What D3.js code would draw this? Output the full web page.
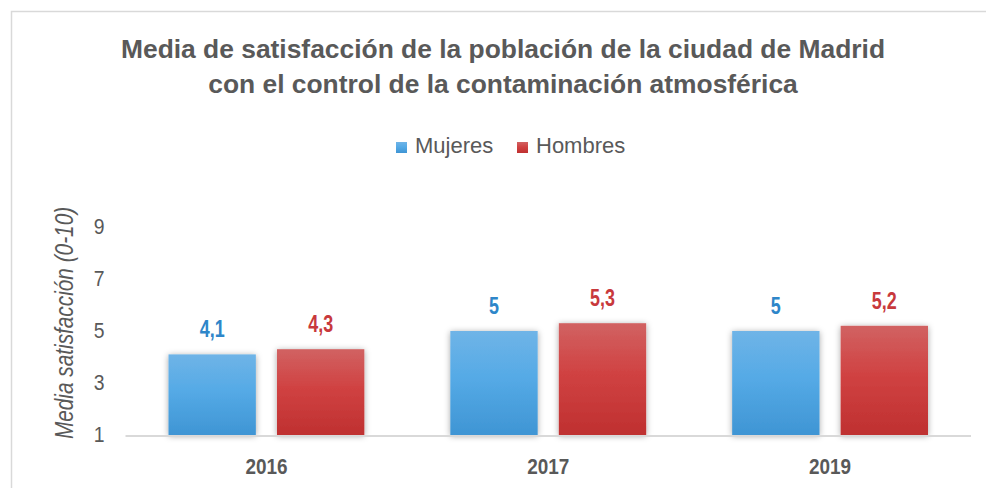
<!DOCTYPE html>
<html><head><meta charset="utf-8">
<script src="https://cdn.jsdelivr.net/npm/d3@7"></script>
<style>
html,body{margin:0;padding:0;background:#fff;}
svg{display:block;}
</style>
</head><body>
<svg id="chart" width="986" height="488"></svg>
<script>
const categories = ["2016", "2017", "2019"];
const seriesNames = ["Mujeres", "Hombres"];
const mujeres = [4.1, 5.0, 5.0];
const hombres = [4.3, 5.3, 5.2];
const yTicks = [1, 3, 5, 7, 9];
const valueLabels = {Mujeres: ["4,1", "5", "5"], Hombres: ["4,3", "5,3", "5,2"]};
const titleLines = ["Media de satisfacción de la población de la ciudad de Madrid", "con el control de la contaminación atmosférica"];
const yTitle = "Media satisfacción (0-10)";

const svg = d3.select("#chart");
const W = 986, H = 488;
const FONT = "'Liberation Sans', Arial, sans-serif";
const gray = "#595959";
const colors = {Mujeres: {top: "#6fb4e7", mid: "#55aae6", bot: "#3f95d4", label: "#2e86c9"},
                Hombres: {top: "#d16262", mid: "#d04242", bot: "#bf3030", label: "#c8393c"}};

const defs = svg.append("defs");
seriesNames.forEach(s => {
  const g = defs.append("linearGradient").attr("id", "grad-" + s).attr("x1", 0).attr("y1", 0).attr("x2", 0).attr("y2", 1);
  g.append("stop").attr("offset", "0%").attr("stop-color", colors[s].top);
  g.append("stop").attr("offset", "45%").attr("stop-color", colors[s].mid);
  g.append("stop").attr("offset", "100%").attr("stop-color", colors[s].bot);
});
const f = defs.append("filter").attr("id", "shadow").attr("x", "-20%").attr("y", "-20%").attr("width", "140%").attr("height", "140%");
f.append("feDropShadow").attr("dx", 0).attr("dy", 1).attr("stdDeviation", 3).attr("flood-color", "#000").attr("flood-opacity", 0.35);

// outer frame
svg.append("path").attr("d", `M11.5,${H} V11.5 H${W}`).attr("fill", "none").attr("stroke", "#d9d9d9").attr("stroke-width", 1.5);

// title
svg.append("g").selectAll("text").data(titleLines).join("text")
  .attr("x", 503).attr("y", (d, i) => 58 + i * 35)
  .attr("text-anchor", "middle").attr("font-family", FONT).attr("font-weight", "bold")
  .attr("font-size", 26.4).attr("fill", gray).text(d => d);

// legend
const legendItems = [{name: "Mujeres", x: 396}, {name: "Hombres", x: 517}];
const lg = svg.append("g").selectAll("g").data(legendItems).join("g")
  .attr("transform", d => `translate(${d.x},142)`);
lg.append("rect").attr("width", 11).attr("height", 11).attr("fill", d => `url(#grad-${d.name})`);
lg.append("text").attr("x", 19).attr("y", 11).attr("font-family", FONT).attr("font-size", 22)
  .attr("fill", gray).text(d => d.name);

// scales
const x0 = d3.scaleBand().domain(categories).range([125.5, 971]).paddingInner(0).paddingOuter(0);
const x1 = d3.scaleBand().domain(seriesNames).range([43, x0.bandwidth() - 43]).paddingInner(0.195).paddingOuter(0);
const y = d3.scaleLinear().domain([1, 9]).range([435, 227]);

// y ticks
svg.append("g").selectAll("text").data(yTicks).join("text")
  .attr("transform", d => `translate(104.5,${y(d) + 6.5}) scale(0.88,1)`).attr("text-anchor", "end")
  .attr("font-family", FONT).attr("font-size", 22).attr("fill", gray).text(d => d);

// y title
svg.append("text").attr("transform", `translate(72.5,323) rotate(-90) scale(0.80,1)`)
  .attr("text-anchor", "middle").attr("font-family", FONT).attr("font-style", "italic")
  .attr("font-size", 26).attr("fill", gray).text(yTitle);

// bars
const data = categories.map((c, i) => ({cat: c, vals: [{s: "Mujeres", v: mujeres[i], l: valueLabels.Mujeres[i]}, {s: "Hombres", v: hombres[i], l: valueLabels.Hombres[i]}]}));
const groups = svg.append("g").selectAll("g").data(data).join("g")
  .attr("transform", d => `translate(${x0(d.cat)},0)`);
groups.selectAll("rect").data(d => d.vals).join("rect")
  .attr("x", d => x1(d.s)).attr("width", x1.bandwidth())
  .attr("y", d => y(d.v)).attr("height", d => y(1) - y(d.v))
  .attr("fill", d => `url(#grad-${d.s})`).attr("filter", "url(#shadow)");
groups.selectAll("text.val").data(d => d.vals).join("text").attr("class", "val")
  .attr("transform", d => `translate(${x1(d.s) + x1.bandwidth() / 2},${y(d.v) - 17}) scale(0.78,1)`)
  .attr("text-anchor", "middle").attr("font-family", FONT).attr("font-weight", "bold")
  .attr("font-size", 23).attr("fill", d => colors[d.s].label).text(d => d.l);

// x axis line
svg.append("line").attr("x1", 125.5).attr("x2", 971).attr("y1", 436).attr("y2", 436)
  .attr("stroke", "#d9d9d9").attr("stroke-width", 2);

// x labels
svg.append("g").selectAll("text").data(categories).join("text")
  .attr("transform", d => `translate(${x0(d) + x0.bandwidth() / 2},474) scale(0.86,1)`).attr("text-anchor", "middle")
  .attr("font-family", FONT).attr("font-weight", "bold").attr("font-size", 22).attr("fill", gray).text(d => d);
</script>
</body></html>
